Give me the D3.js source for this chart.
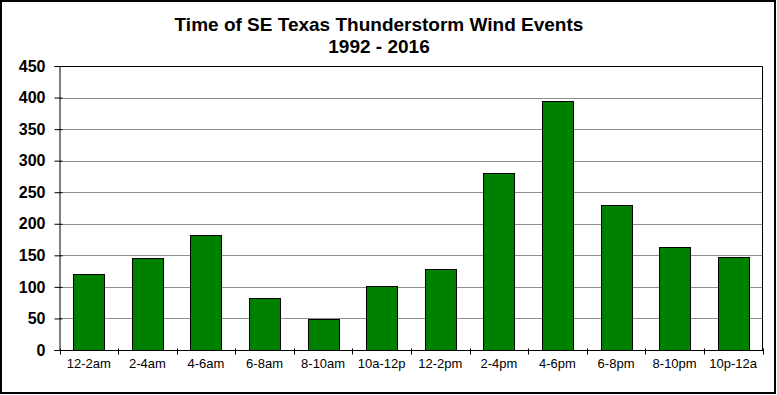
<!DOCTYPE html>
<html>
<head>
<meta charset="utf-8">
<script src="https://cdn.jsdelivr.net/npm/d3@7"></script>
<style>
  html, body { margin: 0; padding: 0; background: #fff; }
  svg { display: block; }
</style>
</head>
<body>
<div id="chart"></div>
<script>
// Data
var categories = ['12-2am', '2-4am', '4-6am', '6-8am', '8-10am', '10a-12p',
                  '12-2pm', '2-4pm', '4-6pm', '6-8pm', '8-10pm', '10p-12a'];
var events = [121, 145, 182, 82, 49, 102, 129, 281, 394, 229, 163, 148];
var yTicks = [0, 50, 100, 150, 200, 250, 300, 350, 400, 450];
var titleLines = ['Time of SE Texas Thunderstorm Wind Events', '1992 - 2016'];

var W = 777, H = 395;
var plot = { left: 59.5, right: 762.5, top: 66, bottom: 350 };

var svg = d3.select('#chart').append('svg')
  .attr('width', W).attr('height', H);

// Outer frame
svg.append('rect')
  .attr('x', 1).attr('y', 1)
  .attr('width', W - 3).attr('height', H - 3)
  .attr('fill', '#fff')
  .attr('stroke', '#000')
  .attr('stroke-width', 2);

var x = d3.scaleBand()
  .domain(categories)
  .range([plot.left, plot.right])
  .paddingInner(0.47)
  .paddingOuter(0.235);

var y = d3.scaleLinear()
  .domain([0, 450])
  .range([plot.bottom, plot.top]);

// Gridlines
svg.append('g')
  .selectAll('line')
  .data(yTicks.filter(function(d) { return d > 0 && d < 450; }))
  .enter().append('line')
  .attr('x1', plot.left).attr('x2', plot.right)
  .attr('y1', function(d) { return Math.round(y(d)) + 0.5; })
  .attr('y2', function(d) { return Math.round(y(d)) + 0.5; })
  .attr('stroke', '#8c8c8c')
  .attr('stroke-width', 1);

// Plot frame (top and right)
svg.append('path')
  .attr('d', 'M' + plot.left + ',' + (plot.top + 0.5) + 'H' + plot.right + 'V' + plot.bottom)
  .attr('fill', 'none')
  .attr('stroke', '#000')
  .attr('stroke-width', 1);

// Bars
svg.append('g')
  .selectAll('rect')
  .data(events)
  .enter().append('rect')
  .attr('x', function(d, i) { return Math.round(x(categories[i])) + 0.5; })
  .attr('y', function(d) { return Math.round(y(d)) + 0.5; })
  .attr('width', Math.round(x.bandwidth()))
  .attr('height', function(d) { return Math.round(plot.bottom - y(d)); })
  .attr('fill', '#008000')
  .attr('stroke', '#000')
  .attr('stroke-width', 1);

// Y axis (ticks cross the axis line a little)
var yAxis = svg.append('g')
  .attr('transform', 'translate(' + plot.left + ',0)')
  .call(d3.axisLeft(y).tickValues(yTicks).tickSize(5).tickPadding(9)
    .tickFormat(d3.format('d')));
yAxis.select('.domain').attr('stroke', '#000');
yAxis.selectAll('.tick line').attr('stroke', '#000').attr('x2', 3).attr('x1', -5);
yAxis.selectAll('text')
  .attr('fill', '#000')
  .attr('font-family', 'Liberation Sans, Arial, sans-serif')
  .attr('font-size', 16)
  .attr('font-weight', 'bold');

// X axis with ticks at category boundaries
var xAxis = svg.append('g')
  .attr('transform', 'translate(0,' + (plot.bottom + 0.5) + ')');
xAxis.append('line')
  .attr('x1', plot.left).attr('x2', plot.right + 0.5)
  .attr('stroke', '#000');
var step = x.step();
xAxis.selectAll('.bnd')
  .data(d3.range(categories.length + 1))
  .enter().append('line')
  .attr('class', 'bnd')
  .attr('x1', function(i) { return Math.round(plot.left + i * step) + 0.5; })
  .attr('x2', function(i) { return Math.round(plot.left + i * step) + 0.5; })
  .attr('y1', -2).attr('y2', 4)
  .attr('stroke', '#000');
xAxis.selectAll('text')
  .data(categories)
  .enter().append('text')
  .attr('x', function(d) { return plot.left + (categories.indexOf(d) + 0.5) * step; })
  .attr('y', 17)
  .attr('text-anchor', 'middle')
  .attr('font-family', 'Liberation Sans, Arial, sans-serif')
  .attr('font-size', 13)
  .attr('fill', '#000')
  .text(function(d) { return d; });

// Title
svg.append('g').selectAll('text')
  .data(titleLines)
  .enter().append('text')
  .attr('x', (plot.left + plot.right) / 2 - 32)
  .attr('y', function(d, i) { return 31 + i * 22; })
  .attr('text-anchor', 'middle')
  .attr('font-family', 'Liberation Sans, Arial, sans-serif')
  .attr('font-size', 19)
  .attr('font-weight', 'bold')
  .attr('fill', '#000')
  .text(function(d) { return d; });
</script>
</body>
</html>
